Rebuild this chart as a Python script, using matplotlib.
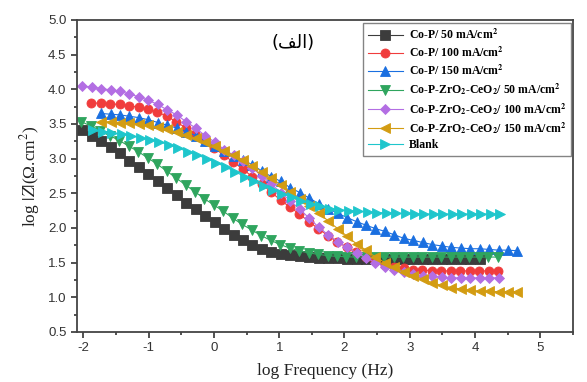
import numpy as np
import matplotlib.pyplot as plt
from matplotlib.ticker import MultipleLocator

plt.rcParams['mathtext.fontset'] = 'stix'
plt.rcParams['axes.unicode_minus'] = False

# log frequency step between points
step = 0.145

black_x0 = -2.02
black_y = [3.41, 3.33, 3.25, 3.17, 3.08, 2.97, 2.88, 2.78, 2.67, 2.57, 2.47, 2.36, 2.27,
           2.17, 2.08, 1.98, 1.90, 1.83, 1.75, 1.70, 1.66, 1.63, 1.61, 1.59, 1.58, 1.57,
           1.56, 1.56, 1.55, 1.55, 1.55, 1.55, 1.55, 1.55, 1.55, 1.55, 1.55, 1.55, 1.55,
           1.55, 1.55, 1.55, 1.55]

red_x0 = -1.88
red_y = [3.80, 3.80, 3.79, 3.78, 3.76, 3.74, 3.71, 3.67, 3.61, 3.53, 3.44, 3.35, 3.25,
         3.15, 3.05, 2.95, 2.85, 2.74, 2.63, 2.52, 2.40, 2.30, 2.20, 2.09, 1.99, 1.89,
         1.80, 1.72, 1.65, 1.58, 1.52, 1.47, 1.44, 1.42, 1.40, 1.39, 1.385, 1.38, 1.38,
         1.38, 1.38, 1.38, 1.38, 1.38]

blue_x0 = -1.73
blue_y = [3.65, 3.64, 3.63, 3.61, 3.59, 3.56, 3.52, 3.48, 3.44, 3.39, 3.33, 3.26, 3.18,
          3.11, 3.04, 2.98, 2.91, 2.82, 2.74, 2.67, 2.58, 2.51, 2.43, 2.35, 2.28, 2.21,
          2.15, 2.09, 2.04, 1.99, 1.95, 1.90, 1.85, 1.82, 1.79, 1.76, 1.74, 1.72, 1.71,
          1.70, 1.70, 1.69, 1.68, 1.68, 1.67]

green_x0 = -2.03
green_y = [3.53, 3.47, 3.40, 3.33, 3.26, 3.18, 3.10, 3.01, 2.92, 2.82, 2.72, 2.62, 2.52,
           2.42, 2.33, 2.24, 2.14, 2.05, 1.97, 1.89, 1.82, 1.76, 1.71, 1.67, 1.64, 1.62,
           1.60, 1.59, 1.585, 1.58, 1.58, 1.58, 1.58, 1.58, 1.58, 1.58, 1.58, 1.58, 1.58,
           1.58, 1.58, 1.58, 1.58, 1.58, 1.58]

purple_x0 = -2.02
purple_y = [4.05, 4.03, 4.01, 3.99, 3.97, 3.93, 3.89, 3.84, 3.78, 3.70, 3.63, 3.53, 3.44,
            3.33, 3.24, 3.13, 3.05, 2.96, 2.86, 2.75, 2.63, 2.51, 2.39, 2.27, 2.14, 2.01,
            1.90, 1.80, 1.72, 1.64, 1.57, 1.50, 1.44, 1.40, 1.36, 1.33, 1.31, 1.30, 1.29,
            1.28, 1.28, 1.28, 1.28, 1.28, 1.28]

gold_x0 = -1.73
gold_y = [3.53, 3.53, 3.52, 3.51, 3.50, 3.48, 3.45, 3.42, 3.38, 3.34, 3.29, 3.24, 3.18,
          3.11, 3.05, 2.98, 2.90, 2.81, 2.72, 2.62, 2.52, 2.42, 2.32, 2.22, 2.10, 1.99,
          1.88, 1.77, 1.68, 1.58, 1.50, 1.43, 1.37, 1.31, 1.26, 1.21, 1.17, 1.14, 1.12,
          1.10, 1.09, 1.085, 1.08, 1.08, 1.08]

cyan_x0 = -1.85
cyan_y = [3.41, 3.39, 3.37, 3.35, 3.33, 3.30, 3.27, 3.24, 3.20, 3.15, 3.10, 3.05, 3.00,
          2.94, 2.88, 2.81, 2.74, 2.67, 2.60, 2.54, 2.49, 2.44, 2.39, 2.35, 2.31, 2.28,
          2.26, 2.25, 2.24, 2.23, 2.22, 2.22, 2.21, 2.21, 2.20, 2.20, 2.20, 2.20, 2.20,
          2.20, 2.20, 2.20, 2.20, 2.20]

labels = [r'Co-P/ 50 mA/cm$^{\mathbf{2}}$',
          r'Co-P/ 100 mA/cm$^{\mathbf{2}}$',
          r'Co-P/ 150 mA/cm$^{\mathbf{2}}$',
          r'Co-P-ZrO$_{\mathbf{2}}$-CeO$_{\mathbf{2}}$/ 50 mA/cm$^{\mathbf{2}}$',
          r'Co-P-ZrO$_{\mathbf{2}}$-CeO$_{\mathbf{2}}$/ 100 mA/cm$^{\mathbf{2}}$',
          r'Co-P-ZrO$_{\mathbf{2}}$-CeO$_{\mathbf{2}}$/ 150 mA/cm$^{\mathbf{2}}$',
          'Blank']

series = [(black_x0, black_y, 's', '#3c3c3c'),
          (red_x0, red_y, 'o', '#f03c3c'),
          (blue_x0, blue_y, '^', '#1a6fe0'),
          (green_x0, green_y, 'v', '#2fa55e'),
          (purple_x0, purple_y, 'D', '#b36ee3'),
          (gold_x0, gold_y, '<', '#d39c12'),
          (cyan_x0, cyan_y, '>', '#1ec6cc')]

fig = plt.figure(figsize=(5.87, 3.82), dpi=100)
ax = fig.add_axes([0.131, 0.131, 0.845, 0.817])

for (x0, y, m, c), lab in zip(series, labels):
    x = x0 + step * np.arange(len(y))
    ms = 5.5 if m == 'D' else 6.5
    ax.plot(x, y, marker=m, color=c, ms=ms, mec=c, mew=0.6, lw=0.8, label=lab)

ax.set_xlim(-2.1, 5.5)
ax.set_ylim(0.5, 5.0)
ax.xaxis.set_major_locator(MultipleLocator(1))
ax.xaxis.set_minor_locator(MultipleLocator(0.5))
ax.yaxis.set_major_locator(MultipleLocator(0.5))
ax.yaxis.set_minor_locator(MultipleLocator(0.25))
ax.yaxis.set_major_formatter(plt.FormatStrFormatter('%.1f'))
ax.tick_params(which='both', direction='out', top=False, right=False,
               labelsize=9.5, colors='#333333', width=1.2)
ax.tick_params(which='major', length=4)
ax.tick_params(which='minor', length=2.5)
for lbl in ax.get_xticklabels() + ax.get_yticklabels():
    lbl.set_family('Liberation Sans')
for s in ax.spines.values():
    s.set_linewidth(1.3)
    s.set_color('#444444')

ax.set_xlabel('log Frequency (Hz)', family='Liberation Serif', fontsize=12.5,
              color='#222222', labelpad=6)
ax.set_ylabel(r'log $|Z|$(Ω.cm$^2$)', family='Liberation Serif', fontsize=12.5,
              color='#222222', labelpad=4)

# Arabic label, written in visual order with presentation forms
ax.text(0.435, 0.925, '(\uFED2\uFEDF\uFE8D)', transform=ax.transAxes,
        ha='center', va='center', fontsize=13, family='DejaVu Sans')

leg = ax.legend(loc='upper right', bbox_to_anchor=(1.0, 0.995), frameon=True,
                prop={'family': 'Liberation Serif', 'weight': 'bold', 'size': 8.5},
                handlelength=3.0, labelspacing=0.3, borderpad=0.4,
                fancybox=False, edgecolor='#666666', handletextpad=0.5,
                borderaxespad=0.15)

fig.savefig('out.png', dpi=100)
